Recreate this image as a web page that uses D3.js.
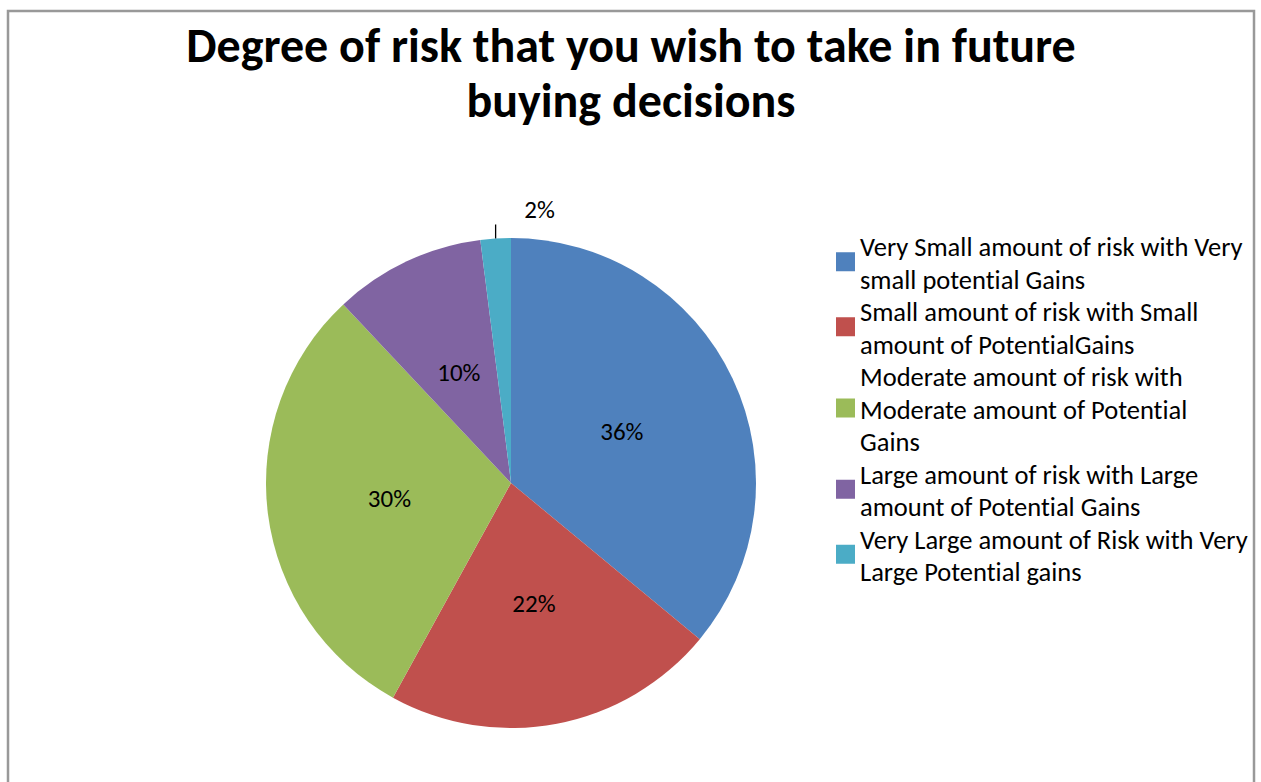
<!DOCTYPE html>
<html>
<head>
<meta charset="utf-8">
<script src="https://cdn.jsdelivr.net/npm/d3@7"></script>
<style>
  html, body { margin: 0; padding: 0; background: #fff; }
  svg { display: block; }
  text { font-family: Carlito, Lato, "Open Sans", sans-serif; fill: #000; font-variant-ligatures: none; font-feature-settings: "liga" 0, "clig" 0; }
</style>
</head>
<body>
<svg id="chart" width="1261" height="782"></svg>
<script>
// Survey categories and their shares (%)
const categories = [
  "Very Small amount of risk with Very small potential Gains",
  "Small amount of risk with Small amount of PotentialGains",
  "Moderate amount of risk with Moderate amount of Potential Gains",
  "Large amount of risk with Large amount of Potential Gains",
  "Very Large amount of Risk with Very Large Potential gains"
];
const shares = [36, 22, 30, 10, 2];
// Legend lines as they wrap in the legend box
const legendLines = [
  ["Very Small amount of risk with Very", "small potential Gains"],
  ["Small amount of risk with Small", "amount of PotentialGains"],
  ["Moderate amount of risk with", "Moderate amount of Potential", "Gains"],
  ["Large amount of risk with Large", "amount of Potential Gains"],
  ["Very Large amount of Risk with Very", "Large Potential gains"]
];
const palette = ["#4F81BD", "#C0504D", "#9BBB59", "#8064A2", "#4BACC6"];
const titleLines = ["Degree of risk that you wish to take in future", "buying decisions"];

const svg = d3.select("#chart");

// Chart frame
svg.append("rect")
  .attr("x", 8).attr("y", 11)
  .attr("width", 1246).attr("height", 800)
  .attr("fill", "#fff")
  .attr("stroke", "#999").attr("stroke-width", 2.5);

// Title
svg.append("g").selectAll("text")
  .data(titleLines)
  .join("text")
  .attr("x", 631)
  .attr("y", (d, i) => 62 + i * 55)
  .attr("text-anchor", "middle")
  .attr("font-weight", "bold")
  .attr("font-size", 48)
  .text(d => d);

// Pie
const cx = 511, cy = 483, radius = 245;
const color = d3.scaleOrdinal().domain(categories).range(palette);
const data = categories.map((c, i) => ({ name: c, value: shares[i] }));
const pie = d3.pie().value(d => d.value).sort(null);
const arcs = pie(data);
const arc = d3.arc().innerRadius(0).outerRadius(radius);

const g = svg.append("g").attr("transform", `translate(${cx},${cy})`);
g.selectAll("path.slice")
  .data(arcs)
  .join("path")
  .attr("class", "slice")
  .attr("d", arc)
  .attr("fill", d => color(d.data.name));

// Labels: inside for larger slices, outside with a leader for small ones
const inner = d3.arc().innerRadius(radius * 0.5).outerRadius(radius * 0.5);
const bigArcs = arcs.filter(d => d.data.value >= 5);
const smallArcs = arcs.filter(d => d.data.value < 5);

g.selectAll("text.inlabel")
  .data(bigArcs)
  .join("text")
  .attr("class", "inlabel")
  .attr("transform", d => `translate(${inner.centroid(d)})`)
  .attr("text-anchor", "middle")
  .attr("dy", "0.35em")
  .attr("font-size", 25)
  .text(d => d.data.value + "%");

const polar = (a, r) => [Math.sin(a) * r, -Math.cos(a) * r];
smallArcs.forEach(d => {
  const mid = (d.startAngle + d.endAngle) / 2;
  const p0 = polar(mid, radius);
  const topY = p0[1] - 14;
  g.append("line")
    .attr("x1", p0[0]).attr("y1", p0[1])
    .attr("x2", p0[0]).attr("y2", topY)
    .attr("stroke", "#000").attr("stroke-width", 1.3);
  g.append("text")
    .attr("x", p0[0] + 44)
    .attr("y", topY - 6)
    .attr("text-anchor", "middle")
    .attr("font-size", 25)
    .text(d.data.value + "%");
});

// Legend
const lineH = 32.5;
const legend = svg.append("g").attr("transform", "translate(836,0)");
let y = 256;
legendLines.forEach((lines, i) => {
  const blockTop = y;
  const n = lines.length;
  const midY = blockTop + (n - 1) * lineH / 2;
  legend.append("rect")
    .attr("x", 0).attr("y", midY - 20)
    .attr("width", 19).attr("height", 19)
    .attr("fill", palette[i]);
  lines.forEach((t, j) => {
    legend.append("text")
      .attr("x", 24)
      .attr("y", blockTop + j * lineH)
      .attr("font-size", 26.5)
      .text(t);
  });
  y += n * lineH;
});
</script>
</body>
</html>
